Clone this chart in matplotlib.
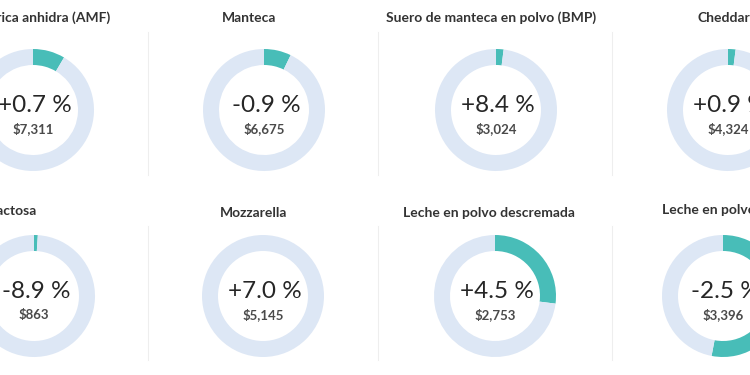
import matplotlib
matplotlib.use("Agg")
import matplotlib.pyplot as plt

# ---- data ----
titles = ["Grasa butírica anhidra (AMF)", "Manteca", "Suero de manteca en polvo (BMP)", "Cheddar",
          "Lactosa", "Mozzarella", "Leche en polvo descremada", "Leche en polvo entera"]
changes = [0.7, -0.9, 8.4, 0.9, -8.9, 7.0, 4.5, -2.5]
prices = [7311, 6675, 3024, 4324, 863, 5145, 2753, 3396]
arc_share = [0.085, 0.072, 0.02, 0.02, 0.01, 0.0, 0.27, 0.53]

# ---- layout (pixels, y measured from top) ----
W, H = 750, 375
ring_x = [33, 264, 496, 728, 34, 263, 495, 723]
ring_y = [110, 110, 110, 110, 296, 296, 296, 296]
title_x = [110, 249, 491, 697, 37, 254, 489, 662]
title_ha = ["right", "center", "center", "left", "right", "center", "center", "left"]
title_y = [18, 18, 18, 18, 211, 213, 213, 210]
R = 61
ring_w = 16
TEAL = "#48bdb8"
LIGHT = "#dde7f5"

plt.rcParams["font.family"] = ["Lato", "DejaVu Sans"]
fig = plt.figure(figsize=(7.5, 3.75), dpi=100)
ax = fig.add_axes([0, 0, 1, 1])
ax.set_xlim(0, W)
ax.set_ylim(0, H)
ax.set_aspect("equal")
ax.axis("off")

def Y(y):
    return H - y

# faint separators
for sx in [148, 378, 612]:
    ax.plot([sx, sx], [Y(32), Y(175)], color="#eeeeee", lw=0.8)
    ax.plot([sx, sx], [Y(226), Y(360)], color="#eeeeee", lw=0.8)

for i in range(len(titles)):
    cx, cy = ring_x[i], Y(ring_y[i])
    ax.pie([arc_share[i], 1 - arc_share[i]], colors=[TEAL, LIGHT], center=(cx, cy), radius=R,
           startangle=90, counterclock=False,
           wedgeprops=dict(width=ring_w, linewidth=0), frame=True)
    ax.text(title_x[i], Y(title_y[i]), titles[i], ha=title_ha[i], va="center",
            fontsize=10, fontweight="bold", color="#333333")
    ax.text(cx + 2, Y(ring_y[i] - 5), f"{changes[i]:+.1f} %", ha="center", va="center",
            fontsize=17.5, color="#262626")
    ax.text(cx, Y(ring_y[i] + 19), f"${prices[i]:,}", ha="center", va="center",
            fontsize=9.5, fontweight="bold", color="#4a4a4a")

ax.set_xlim(0, W)
ax.set_ylim(0, H)
ax.axis("off")
fig.savefig("out.png", dpi=100, facecolor="white")
